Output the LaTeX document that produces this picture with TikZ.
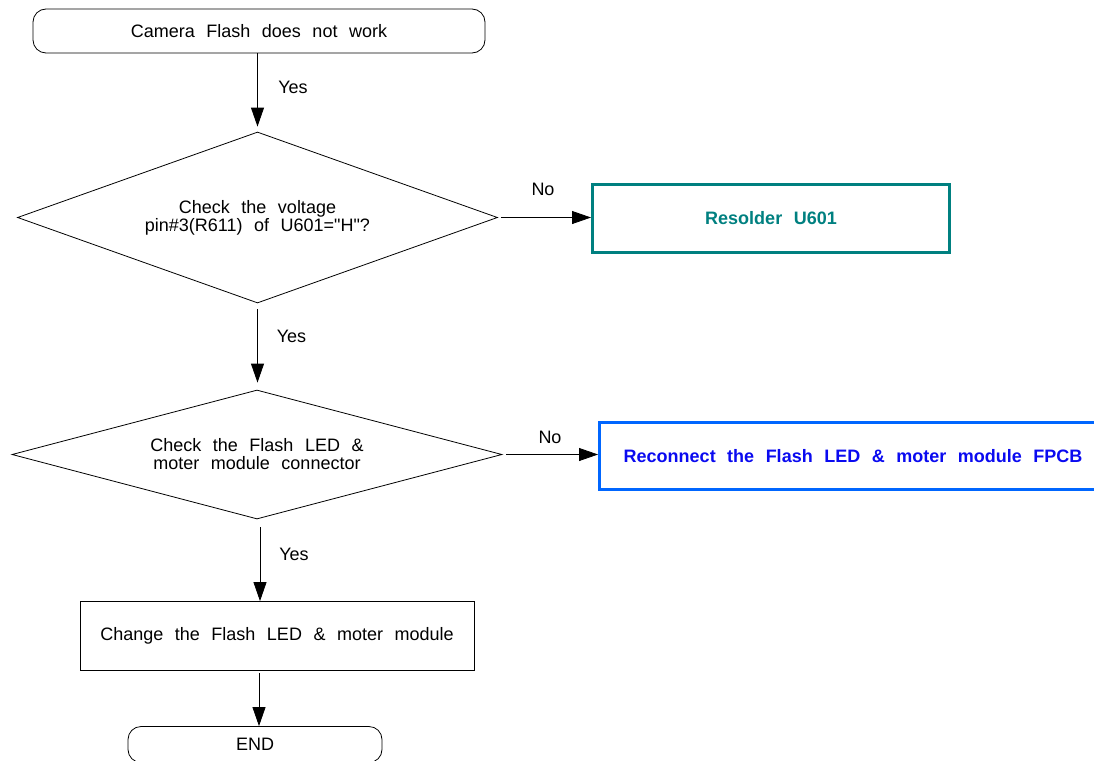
\documentclass[tikz,border=0pt]{standalone}
\usepackage{fontspec}
\setmainfont{Liberation Sans}[Ligatures=TeXOff, WordSpace=2.3]
\usetikzlibrary{arrows.meta,shapes.geometric}
\definecolor{tealc}{RGB}{0,128,128}
\definecolor{boxblue}{RGB}{0,102,255}
\definecolor{txtblue}{RGB}{10,10,240}
\begin{document}
\begin{tikzpicture}[x=1pt,y=-1pt,
  every node/.style={font=\fontsize{18}{18}\selectfont, inner sep=0pt, align=center},
  term/.style={draw, line width=0.8pt, rounded corners=13pt},
  decision/.style={draw, shape=diamond, line width=0.8pt},
  procbox/.style={draw, line width=0.8pt},
  thickbox/.style={draw, line width=3pt, font=\fontsize{18}{18}\selectfont\bfseries},
  lbl/.style={anchor=base},
  arr/.style={line width=0.8pt, -{Triangle[length=19pt,width=13pt]}}
]
\useasboundingbox (0,0) rectangle (1094,760);
\clip (0,0) rectangle (1094,760);

\node[term, minimum width=452pt, minimum height=44pt] (start) at (259,31) {Camera Flash does not work};
\node[decision, minimum width=480pt, minimum height=171pt, shape aspect=2.8] (d1) at (257.5,217.5)
  {Check the voltage\\pin\#3(R611) of U601="H"?};
\node[thickbox, draw=tealc, text=tealc, minimum width=357pt, minimum height=68pt] (teal) at (771,218) {Resolder U601};
\node[decision, minimum width=490pt, minimum height=129pt, shape aspect=3.8] (d2) at (257,454.5)
  {Check the Flash LED \&\\moter module connector};
\node[thickbox, draw=boxblue, text=txtblue, minimum width=507pt, minimum height=67pt] (blue) at (853,456)
  {Reconnect the Flash LED \& moter module FPCB};
\node[procbox, minimum width=394pt, minimum height=69pt] (chg) at (277,636) {Change the Flash LED \& moter module};
\node[term, minimum width=254pt, minimum height=36pt] (stop) at (255,744.5) {END};

\node[lbl] (yes1) at (293,93) {Yes};
\node[lbl] (no1) at (543,195) {No};
\node[lbl] (yes2) at (291.5,342.5) {Yes};
\node[lbl] (no2) at (550,443) {No};
\node[lbl] (yes3) at (294,560.5) {Yes};

\draw[arr, shorten >=5pt] (d1.north |- start.south) -- (d1.north);
\draw[arr, shorten <=3pt] (d1.east) -- (d1.east -| teal.west);
\draw[arr, shorten <=6pt, shorten >=7pt] (d1.south) -- (d1.south |- d2.north);
\draw[arr, shorten <=4pt] (d2.east) -- (d2.east -| blue.west);
\draw[arr, shorten <=8pt] ([xshift=3pt]d2.south) -- ([xshift=3pt]d2.south |- chg.north);
\draw[arr, shorten <=2pt] ([xshift=2pt]d2.south |- chg.south) -- ([xshift=2pt]d2.south |- stop.north);
\end{tikzpicture}
\end{document}
